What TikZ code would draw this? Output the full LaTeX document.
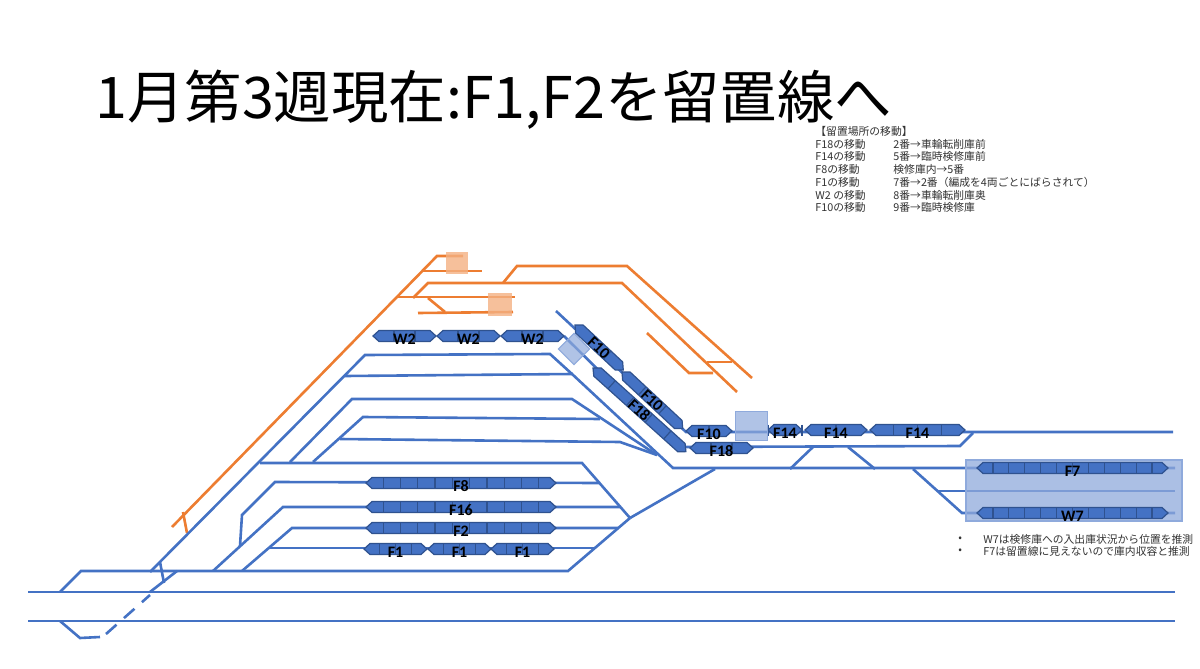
\documentclass[tikz,border=0pt]{standalone}
\usepackage{fontspec}
\setmainfont{Noto Sans CJK JP}
\newfontfamily\lab{Carlito}
\usetikzlibrary{positioning}
\definecolor{trackblue}{HTML}{4472C4}
\definecolor{carborder}{HTML}{2F528F}
\definecolor{trackorange}{HTML}{ED7D31}
\definecolor{boxorange}{HTML}{F4B183}
\definecolor{boxblue}{HTML}{8FAADC}

\tikzset{
  track/.style={draw=trackblue, line width=1.3pt},
  otrack/.style={draw=trackorange, line width=1.3pt},
  car/.style={fill=trackblue, draw=carborder, line width=0.6pt},
  cardiv/.style={draw=carborder, line width=0.6pt},
  trainlabel/.style={font=\lab\bfseries\fontsize{8}{8}\selectfont, inner sep=0pt},
  note/.style={font=\fontsize{5.4}{6.35}\selectfont, align=left, anchor=north west, inner sep=0pt, text=black!80}
}

% x y angle length cars label
\newcommand{\trainunit}[6]{%
  \begin{scope}[shift={(#1,#2)},rotate=-#3]
    \draw[car] (0,0) -- (6,-5.5) -- (#4-6,-5.5) -- (#4,0) -- (#4-6,5.5) -- (6,5.5) -- cycle;
    \pgfmathsetmacro\carw{#4/#5}
    \pgfmathtruncatemacro\ncut{#5-1}
    \foreach \k in {1,...,\ncut} \draw[cardiv] (\k*\carw,-5.5) -- (\k*\carw,5.5);
    \node[trainlabel,rotate=-#3] at (#4/2,{3-4*sin(#3)}) {#6};
  \end{scope}}

\begin{document}
\begin{tikzpicture}[x=0.5pt,y=-0.5pt]
  \useasboundingbox[fill=white] (0,0) rectangle (1200,669);

  % title and notes
  \node[anchor=base west, inner sep=0pt, font=\fontsize{28.7}{32}\selectfont] (title) at (95,118) {1月第3週現在:F1,F2を留置線へ};
  \node[note] (movehead) at (815,126) {【留置場所の移動】\\F18の移動\\F14の移動\\F8の移動\\F1の移動\\W2 の移動\\F10の移動};
  \node[note] (moveto) at (893,138.7) {2番→車輪転削庫前\\5番→臨時検修庫前\\検修庫内→5番\\7番→2番（編成を4両ごとにばらされて）\\8番→車輪転削庫奥\\9番→臨時検修庫};

  % orange tracks
  \draw[otrack] (172,527) -- (437,256) -- (463,256);
  \draw[otrack] (183,512) -- (187,533);
  \draw[otrack] (423,271) -- (482,271);
  \draw[otrack] (398,297) -- (515,297);
  \draw[otrack] (413,298) -- (428,283) -- (622,283) -- (737,392);
  \draw[otrack] (503,283) -- (517,266) -- (627,266) -- (752,378);
  \draw[otrack] (428,298) -- (445,312);
  \draw[otrack] (418,313) -- (513,312);
  \draw[otrack] (647,333) -- (689,373) -- (713,373);
  \draw[otrack] (707,362) -- (732,362);
  \fill[boxorange, opacity=0.8] (446,252) rectangle (468,274);
  \fill[boxorange, opacity=0.8] (488,293) rectangle (512,316);

  % blue tracks
  \draw[track] (28,592) -- (1175,592);
  \draw[track] (28,621) -- (1175,621);
  \draw[track] (60,621) -- (80,638) -- (100,637);
  \draw[track, dash pattern=on 7pt off 5pt] (106,634) -- (150,595);
  \draw[track] (150,592) -- (177,571);
  \draw[track] (60,592) -- (81,571) -- (568,571) -- (630,518);
  \draw[track] (160,562) -- (164,583);
  \draw[track] (150,572) -- (365,355) -- (550,354) -- (572,374);
  \draw[track] (345,376) -- (572,374) -- (673,468) -- (1175,468);
  \draw[track] (260,463) -- (582,463) -- (630,518);
  \draw[track] (290,462) -- (352,399) -- (572,399) -- (657,455);
  \draw[track] (313,462) -- (363,417) -- (600,419);
  \draw[track] (340,439) -- (620,442) -- (657,455);
  \draw[track] (213,571) -- (283,507) -- (620,507);
  \draw[track] (240,546) -- (242,515) -- (275,482) -- (600,483);
  \draw[track] (242,571) -- (292,528) -- (618,528);
  \draw[track] (269,548) -- (595,548);
  \draw[track] (630,518) -- (715,469);
  \draw[track] (556,311) -- (686,432) -- (1173,432);
  \draw[track] (564,336) -- (676,447) -- (960,446) -- (973,433);
  \draw[track] (790,469) -- (813,447);
  \draw[track] (848,447) -- (875,469);
  \draw[track] (913,469) -- (962,513) -- (1175,513);
  \draw[track] (938,491) -- (1175,491);

  % highlight box behind stabled sets
  \draw[boxblue, fill=boxblue, fill opacity=0.75, line width=0.6pt] (966,460) rectangle (1182,521);

  % trains
  \foreach \xa in {373,437,501} \trainunit{\xa}{336}{0}{63}{3}{W2};
  \trainunit{575}{325}{43}{66}{3}{F10}
  \trainunit{622}{372}{43}{83}{3}{F10}
  \trainunit{593}{368}{42}{125}{5}{F18}
  \trainunit{686}{431}{0}{46}{2}{F10}
  \trainunit{690}{448}{0}{63}{3}{F18}
  \trainunit{768}{430}{0}{34}{1}{F14}
  \trainunit{805}{430}{0}{62}{2}{F14}
  \trainunit{870}{430}{0}{95}{4}{F14}
  \trainunit{977}{468}{0}{191}{12}{F7}
  \trainunit{977}{513}{0}{191}{12}{W7}
  \trainunit{366}{483}{0}{190}{11}{F8}
  \trainunit{366}{507}{0}{190}{11}{F16}
  \trainunit{366}{528}{0}{190}{11}{F2}
  \foreach \xa in {364,428,491} \trainunit{\xa}{549}{0}{63}{4}{F1};

  % highlight boxes
  \draw[boxblue, fill=boxblue, fill opacity=0.7, line width=0.5pt, rotate around={45:(574,349)}] (563,338) rectangle (585,360);
  \draw[boxblue, fill=boxblue, fill opacity=0.7, line width=0.5pt] (735,411) rectangle (767,440);

  % remarks
  \node[note, anchor=west] (bul1) at (958,539) {•};
  \node[note, anchor=west] (rem1) at (983,539) {W7は検修庫への入出庫状況から位置を推測};
  \node[note, anchor=west] (bul2) at (958,551) {•};
  \node[note, anchor=west] (rem2) at (983,551) {F7は留置線に見えないので庫内収容と推測};
\end{tikzpicture}
\end{document}
